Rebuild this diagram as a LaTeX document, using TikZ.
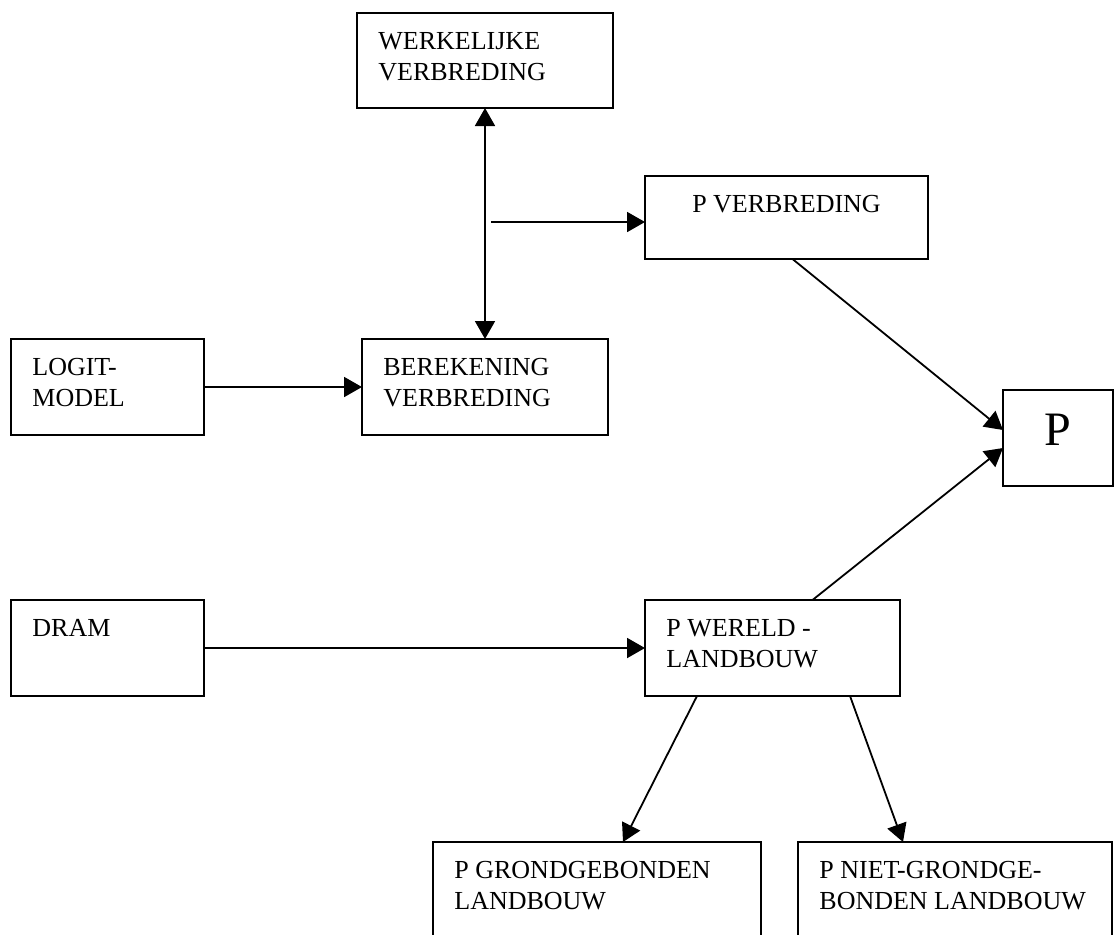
\documentclass[tikz,border=0pt]{standalone}
\usepackage{fontspec}
\setmainfont{Liberation Serif}
\usetikzlibrary{arrows.meta,positioning,calc}

\begin{document}
\begin{tikzpicture}[x=0.5pt,y=-0.5pt,
	blok/.style={draw,line width=1.2pt,rectangle,anchor=north west,inner sep=0pt,outer sep=0pt},
	tekst/.style={anchor=north west,inner sep=0pt,align=left,font=\fontsize{13}{15.5}\selectfont},
	pijl/.style={-{Triangle[length=9pt,width=10pt]},line width=0.9pt},
	dubbel/.style={{Triangle[length=9pt,width=10pt]}-{Triangle[length=9pt,width=10pt]},line width=0.9pt}]
		\path[use as bounding box] (0,0) rectangle (1118,934);
		\clip (0,0) rectangle (1118,934);
		\fill[white] (0,0) rectangle (1118,934);
		% boxes with text in the upper left corner
		\foreach \N/\X/\Y/\W/\H/\T in
		{werk/357/13/256/95/{WERKELIJKE\\VERBREDING},
			logit/11/339/193/96/{LOGIT-\\MODEL},
			berek/362/339/246/96/{BEREKENING\\VERBREDING},
			dram/11/600/193/96/{DRAM},
			wereld/645/600/255/96/{P WERELD -\\LANDBOUW},
			grond/433/842/328/130/{P GRONDGEBONDEN\\LANDBOUW},
			niet/798/842/314/130/{P NIET-GRONDGE-\\BONDEN LANDBOUW}}
		{\node[blok,minimum width=\W*0.5pt,minimum height=\H*0.5pt] (\N) at (\X,\Y) {};
			\node[tekst] (\N-t) at ([xshift=10.5pt,yshift=-9.5pt]\N.north west) {\T};}
		% boxes with centred text
		\node[blok,minimum width=141.5pt,minimum height=41.5pt] (pverb) at (645,176) {};
		\node[tekst,anchor=north] (pverb-t) at ([yshift=-9.5pt]pverb.north) {P VERBREDING};
		\node[blok,minimum width=55pt,minimum height=48pt] (p) at (1003,390) {};
		\node[anchor=north,inner sep=0pt,font=\fontsize{24}{28}\selectfont] (p-t) at ([yshift=-12pt]p.north) {P};
		% connectors
		\draw[dubbel] (werk) -- (berek);
		\coordinate (splits) at (491,222);
		\draw[pijl] (splits) -- (splits -| pverb.west);
		\draw[pijl] (logit) -- (berek);
		\draw[pijl] (dram) -- (wereld);
		\draw[pijl] ([xshift=3pt]pverb.south) -- ([yshift=4pt]p.west);
		\draw[pijl] ([xshift=20pt]wereld.north) -- ([yshift=-5pt]p.west);
		\draw[pijl] ([xshift=26pt]wereld.south west) -- ([xshift=13pt]grond.north);
		\draw[pijl] ([xshift=-25pt]wereld.south east) -- ([xshift=-26pt]niet.north);
\end{tikzpicture}
\end{document}
